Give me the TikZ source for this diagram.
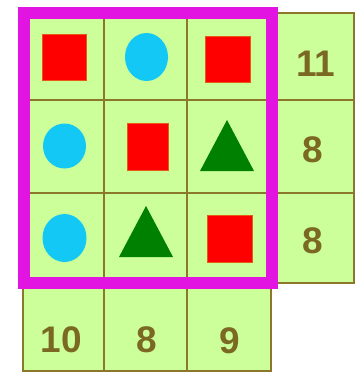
\documentclass[tikz,border=0pt]{standalone}
\usepackage{fontspec}
\setmainfont{Liberation Sans}
\begin{document}
\begin{tikzpicture}[x=1pt,y=-1pt,
  cellbox/.style={fill=cellfill,draw=gridline,line width=1.5pt},
  redsq/.style={fill=red,draw=sqedge,line width=0.8pt},
  bluedisc/.style={fill=disc},
  greentri/.style={fill=tri},
  numtext/.style={text=numcol,font=\fontsize{37}{40}\selectfont\bfseries,inner sep=0pt,anchor=center},
  frame/.style={draw=magentaframe,line width=12pt}]
\definecolor{cellfill}{RGB}{204,255,153}
\definecolor{gridline}{RGB}{140,120,45}
\definecolor{numcol}{RGB}{122,104,35}
\definecolor{sqedge}{RGB}{230,90,20}
\definecolor{disc}{RGB}{20,200,245}
\definecolor{tri}{RGB}{0,128,0}
\definecolor{magentaframe}{RGB}{225,20,225}
\useasboundingbox (0,0) rectangle (358,372);
\fill[white] (0,0) rectangle (358,372);
% main 3x3 cells
\foreach \xa/\xb in {23/104,104/187,187/271}
  \foreach \ya/\yb in {13/100,100/193,193/283}
    \draw[cellbox] (\xa,\ya) rectangle (\xb,\yb);
% right column
\foreach \ya/\yb in {13/100,100/193,193/283}
  \draw[cellbox] (271,\ya) rectangle (354,\yb);
% bottom row
\foreach \xa/\xb in {23/104,104/187,187/271}
  \draw[cellbox] (\xa,283) rectangle (\xb,371);
% shapes row 1
\draw[redsq] (42,34) rectangle (86,80);
\fill[bluedisc] (146.5,57) ellipse [x radius=21.5, y radius=24];
\draw[redsq] (205,36) rectangle (250,82);
% row 2
\fill[bluedisc] (64.5,146) ellipse [x radius=21.5, y radius=22.5];
\draw[redsq] (127,123) rectangle (168,170);
\fill[greentri] (200,171) -- (227,120) -- (254,171) -- cycle;
% row 3
\fill[bluedisc] (64.5,238) ellipse [x radius=22, y radius=24];
\fill[greentri] (119,257) -- (146,206) -- (173,257) -- cycle;
\draw[redsq] (207,215) rectangle (252,262);
% numbers
\node[numtext] (r1) at (316,63.5) {11};
\node[numtext] (r2) at (313,150) {8};
\node[numtext] (r3) at (313,241) {8};
\node[numtext] (c1) at (61.5,340) {10};
\node[numtext] (c2) at (147,340) {8};
\node[numtext] (c3) at (230,341) {9};
% magenta frame
\draw[frame] (23.5,12.5) rectangle (271.5,282.5);
\end{tikzpicture}
\end{document}
